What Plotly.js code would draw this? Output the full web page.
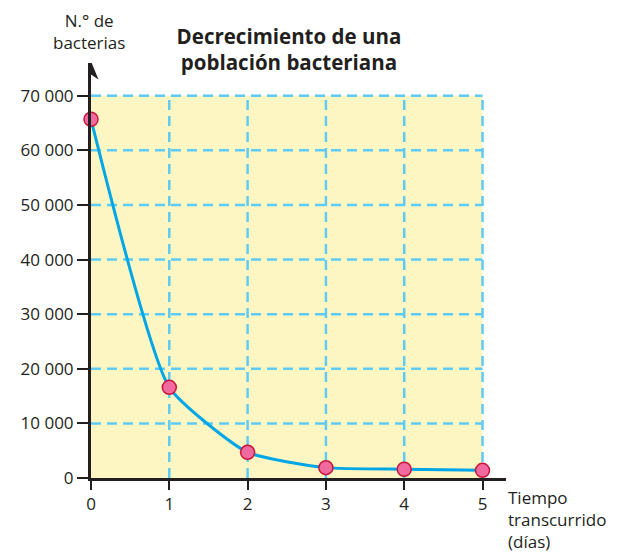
<!DOCTYPE html>
<html>
<head>
<meta charset="utf-8">
<script src="https://cdn.plot.ly/plotly-3.0.1.min.js"></script>
<style>html,body{margin:0;padding:0;background:#fff;}</style>
</head>
<body>
<div id="chart" style="width:618px;height:558px;"></div>
<script>
const dias = [0, 1, 2, 3, 4, 5];
const bacterias = [65700, 16600, 4700, 1900, 1600, 1400];
const xTicks = [0, 1, 2, 3, 4, 5];
const yTicks = [0, 10000, 20000, 30000, 40000, 50000, 60000, 70000];
const yTickLabels = ['0', '10 000', '20 000', '30 000', '40 000', '50 000', '60 000', '70 000'];

const ink = '#231f20';
const gridColor = '#5fcaf3';
const xMax = xTicks[xTicks.length - 1];
const yMax = yTicks[yTicks.length - 1];

const shapes = [];
shapes.push({type: 'rect', xref: 'x', yref: 'y', x0: 0, x1: xMax, y0: 0, y1: yMax,
  fillcolor: '#fdf6c3', line: {width: 0}, layer: 'below'});
xTicks.slice(1).forEach(v => shapes.push({type: 'line', xref: 'x', yref: 'y', x0: v, x1: v, y0: 0, y1: yMax,
  line: {color: gridColor, width: 2.5, dash: '10px,6px'}, layer: 'below'}));
yTicks.slice(1).forEach(v => shapes.push({type: 'line', xref: 'x', yref: 'y', x0: 0, x1: xMax, y0: v, y1: v,
  line: {color: gridColor, width: 2.5, dash: '10px,6px'}, layer: 'below'}));
// arrowhead on y axis
shapes.push({type: 'path', xref: 'x', yref: 'y', xsizemode: 'pixel', ysizemode: 'scaled',
  xanchor: 0, path: 'M-7.5,73000 L0,73900 L7.5,73000 L0,76300 Z', fillcolor: ink, line: {width: 0}});

const trace = {
  x: dias, y: bacterias, type: 'scatter', mode: 'lines+markers',
  line: {color: '#00a6e6', width: 3, shape: 'spline', smoothing: 0.5},
  marker: {size: 14, color: '#f06a9f', line: {color: '#c8153a', width: 1.5}},
  cliponaxis: false, hoverinfo: 'skip'
};

const font = {family: '"Open Sans", "Noto Sans", sans-serif', color: ink};

const layout = {
  width: 618, height: 558,
  margin: {l: 91, r: 112, t: 63, b: 80},
  paper_bgcolor: '#ffffff', plot_bgcolor: '#ffffff',
  showlegend: false,
  font: font,
  title: {text: '<b>Decrecimiento de una<br>población bacteriana</b>',
    font: {family: font.family, size: 20.5, color: ink},
    x: 0.477, xanchor: 'center', y: 0.922, yanchor: 'middle', xref: 'paper'},
  xaxis: {range: [0, 5.3], tickvals: xTicks, ticktext: xTicks.map(String),
    showgrid: false, zeroline: false, showline: true, linecolor: ink, linewidth: 3,
    ticks: 'outside', ticklen: 9, tickwidth: 2, tickcolor: ink,
    tickfont: {family: font.family, size: 17, color: ink}, fixedrange: true},
  yaxis: {range: [0, 76000], tickvals: yTicks, ticktext: yTickLabels,
    showgrid: false, zeroline: false, showline: true, linecolor: ink, linewidth: 3,
    ticks: 'outside', ticklen: 11, tickwidth: 2, tickcolor: ink,
    tickfont: {family: font.family, size: 17, color: ink}, fixedrange: true},
  shapes: shapes,
  annotations: [
    {text: 'N.° de<br>bacterias', xref: 'paper', yref: 'paper', x: -0.005, y: 1.077,
      xanchor: 'center', yanchor: 'middle', showarrow: false, align: 'center',
      font: {family: font.family, size: 17, color: ink}},
    {text: 'Tiempo<br>transcurrido<br>(días)', xref: 'paper', yref: 'paper', x: 1.0, y: -0.015,
      xanchor: 'left', yanchor: 'top', showarrow: false, align: 'left',
      font: {family: font.family, size: 17, color: ink}}
  ]
};

Plotly.newPlot('chart', [trace], layout, {displayModeBar: false, staticPlot: true});
</script>
</body>
</html>
